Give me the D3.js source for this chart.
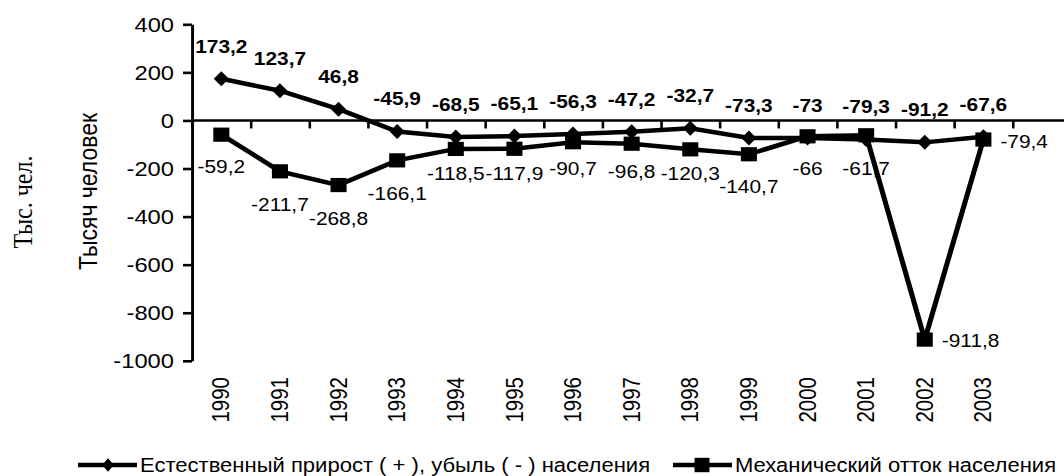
<!DOCTYPE html>
<html><head><meta charset="utf-8">
<script src="https://cdn.jsdelivr.net/npm/d3@7"></script>
<style>html,body{margin:0;padding:0;background:#fff;}svg{display:block}</style>
</head><body>
<svg id="chart"></svg>
<script>
// ---- data ----
const years = ["1990","1991","1992","1993","1994","1995","1996","1997","1998","1999","2000","2001","2002","2003"];
const naturalGrowth = [173.2, 123.7, 46.8, -45.9, -68.5, -65.1, -56.3, -47.2, -32.7, -73.3, -73, -79.3, -91.2, -67.6];
const mechanicalOutflow = [-59.2, -211.7, -268.8, -166.1, -118.5, -117.9, -90.7, -96.8, -120.3, -140.7, -66, -61.7, -911.8, -79.4];
const yTicks = [400, 200, 0, -200, -400, -600, -800, -1000];
const seriesNames = ["Естественный прирост ( + ), убыль ( - ) населения", "Механический отток населения"];
const yTitle = "Тысяч человек";
const outerTitle = "Тыс. чел.";
// ---- label placement (layout only) ----
const mechLabelDy = [38, 40, 40, 40, 31, 31, 33, 34, 31, 39, 39, 40, 7, 8];
const mechLabelSide = ["below","below","below","below","below","below","below","below","below","below","below","below","right","right"];

// ---- layout ----
const S = 1.13;             // horizontal stretch of the original picture
const W = 1064 / S, H = 476;
const px = v => v / S;
const sans = "'Liberation Sans', Arial, sans-serif";
const serif = "'Liberation Serif', 'Times New Roman', serif";
const LW = 4.5;

const svg = d3.select("#chart")
  .attr("width", 1064).attr("height", H)
  .attr("viewBox", `0 0 ${W} ${H}`)
  .attr("preserveAspectRatio", "none");

const x = d3.scaleBand().domain(years).range([px(192), px(1012.7)]).padding(0);
const cx = i => x(years[i]) + x.bandwidth() / 2;
const y = d3.scaleLinear().domain([-1000, 400]).range([360.8, 24.3]);

// y axis
const yAxis = svg.append("g")
  .attr("transform", `translate(${px(192)},0)`)
  .call(d3.axisLeft(y).tickValues(yTicks).tickSize(px(9)).tickSizeOuter(0)
        .tickPadding(px(9)).tickFormat(d => String(d)));
yAxis.attr("font-family", sans).attr("font-size", 21);
yAxis.selectAll("path,line").attr("stroke", "#000").attr("stroke-width", 2.6);
yAxis.selectAll("text").attr("fill", "#000");

// x axis (category boundaries)
const bScale = d3.scaleLinear().domain([0, years.length]).range(x.range());
const xAxis = svg.append("g")
  .attr("transform", `translate(0,${y(0)})`)
  .call(d3.axisBottom(bScale).tickValues(d3.range(0, years.length + 1))
        .tickSize(8).tickSizeOuter(0).tickFormat(""));
xAxis.select(".domain").remove();
xAxis.selectAll("line").attr("stroke", "#000").attr("stroke-width", 2.3);
xAxis.append("line").attr("x1", px(192)).attr("x2", W).attr("y1", 0).attr("y2", 0)
  .attr("stroke", "#000").attr("stroke-width", 2.6);

// year labels
svg.append("g").selectAll("text").data(years).join("text")
  .attr("transform", (d, i) => `translate(${cx(i)},377) rotate(-90)`)
  .attr("text-anchor", "end").attr("dy", "0.35em")
  .attr("font-family", sans).attr("font-size", 20.5).attr("fill", "#000")
  .text(d => d);

// titles
svg.append("text").attr("transform", `translate(${px(97)},191.5) rotate(-90)`)
  .attr("text-anchor", "middle").attr("font-family", sans).attr("font-size", 23)
  .attr("fill", "#000").text(yTitle);
svg.append("text").attr("transform", `translate(${px(32)},202) rotate(-90)`)
  .attr("text-anchor", "middle").attr("font-family", serif).attr("font-size", 24)
  .attr("fill", "#000").text(outerTitle);

const fmt = v => String(v).replace(".", ",");
const line = d3.line().x((d, i) => cx(i)).y(d => y(d));
const diamond = (hw, hh) => `M0,${-hh}L${hw},0L0,${hh}L${-hw},0Z`;

// natural series
svg.append("path").datum(naturalGrowth).attr("d", line)
  .attr("fill", "none").attr("stroke", "#000").attr("stroke-width", LW);
svg.append("g").selectAll("path").data(naturalGrowth).join("path")
  .attr("transform", (d, i) => `translate(${cx(i)},${y(d)})`)
  .attr("d", diamond(6.7, 7.5)).attr("fill", "#000");

// mechanical series
svg.append("path").datum(mechanicalOutflow).attr("d", line)
  .attr("fill", "none").attr("stroke", "#000").attr("stroke-width", LW);
const sq = 14.2;
svg.append("g").selectAll("rect").data(mechanicalOutflow).join("rect")
  .attr("x", (d, i) => cx(i) - sq / 2).attr("y", d => y(d) - sq / 2)
  .attr("width", sq).attr("height", sq).attr("fill", "#000");

// labels
svg.append("g").selectAll("text").data(naturalGrowth).join("text")
  .attr("x", (d, i) => cx(i)).attr("y", d => y(d) - 26)
  .attr("text-anchor", "middle").attr("font-family", sans).attr("font-weight", "bold")
  .attr("font-size", 18.5).attr("fill", "#000").text(fmt);
svg.append("g").selectAll("text").data(mechanicalOutflow).join("text")
  .attr("x", (d, i) => mechLabelSide[i] === "right" ? cx(i) + px(17) : cx(i))
  .attr("y", (d, i) => y(d) + mechLabelDy[i])
  .attr("text-anchor", (d, i) => mechLabelSide[i] === "right" ? "start" : "middle")
  .attr("font-family", sans).attr("font-size", 18.5).attr("fill", "#000").text(fmt);

// legend
const leg = [
  {x1: 78, x2: 137, mx: 108, tx: 140, kind: "diamond"},
  {x1: 673, x2: 732, mx: 702, tx: 735, kind: "square"}
];
const lg = svg.append("g");
leg.forEach((l, i) => {
  lg.append("line").attr("x1", px(l.x1)).attr("x2", px(l.x2)).attr("y1", 465).attr("y2", 465)
    .attr("stroke", "#000").attr("stroke-width", LW);
  if (l.kind === "diamond") {
    lg.append("path").attr("transform", `translate(${px(l.mx)},465)`).attr("d", diamond(5.2, 6.8)).attr("fill", "#000");
  } else {
    lg.append("rect").attr("x", px(l.mx) - 6.6).attr("y", 465 - 7.2).attr("width", 13.2).attr("height", 14.4).attr("fill", "#000");
  }
  lg.append("text").attr("x", px(l.tx)).attr("y", 472).attr("font-family", sans)
    .attr("font-size", 19.5).attr("fill", "#000").text(seriesNames[i]);
});
</script>
</body></html>
